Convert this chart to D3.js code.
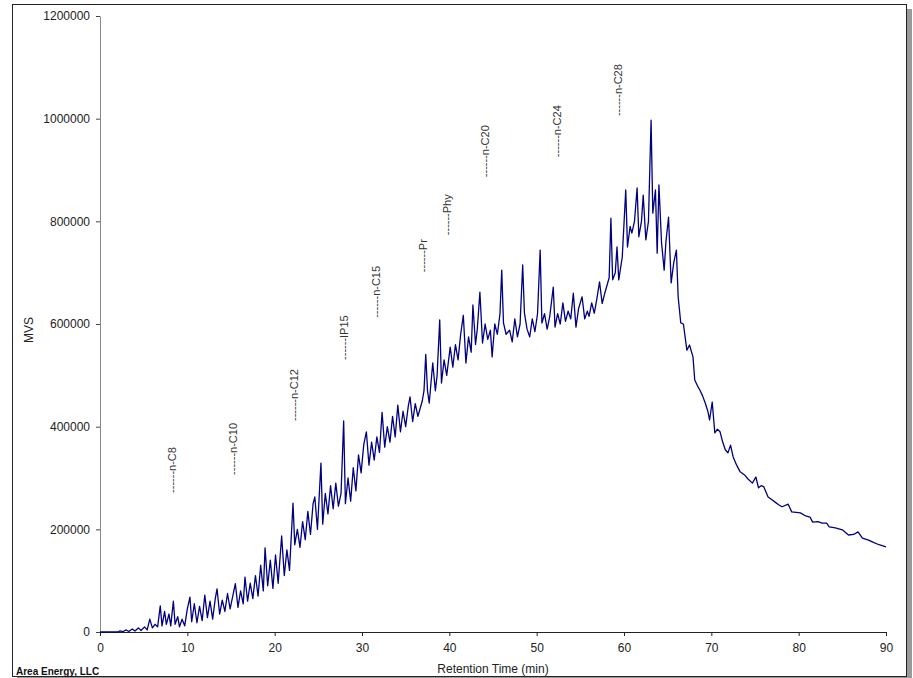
<!DOCTYPE html>
<html>
<head>
<meta charset="utf-8">
<script src="https://cdn.jsdelivr.net/npm/d3@7"></script>
<style>
  body { margin: 0; background: #fff; }
  svg { display: block; font-family: "Liberation Sans", Arial, sans-serif; }
  .axis text { fill: #222; font-size: 12px; }
  .peak { fill: #333; font-size: 11px; }
</style>
</head>
<body>
<svg id="chart"></svg>
<script>
'use strict';

var xTicks = [0, 10, 20, 30, 40, 50, 60, 70, 80, 90];
var yTicks = [0, 200000, 400000, 600000, 800000, 1000000, 1200000];

// peak markers: name, retention time (min), height of label foot (MVS)
var peakNames = ['n-C8', 'n-C10', 'n-C12', 'IP15', 'n-C15', 'Pr', 'Phy', 'n-C20', 'n-C24', 'n-C28'];
var peakTimes = [8.3, 15.3, 22.2, 27.9, 31.6, 37.0, 39.7, 44.1, 52.3, 59.3];
var peakHeights = [271000, 306000, 411000, 530000, 612000, 701000, 773000, 886000, 925000, 1005000];

// chromatogram trace, [retention time (min), MVS]
var trace = [
  [0,0],[2,0],[2.3,2000],[2.6,500],[3,4000],[3.3,1000],[3.7,6000],[4,2000],[4.4,8000],[4.7,3000],
  [5.1,10000],[5.4,4000],[5.7,25000],[6,8000],[6.3,15000],[6.6,10000],[6.9,51000],[7.1,12000],[7.4,40000],[7.6,15000],
  [7.9,35000],[8.1,12000],[8.4,60000],[8.6,15000],[8.9,30000],[9.1,10000],[9.4,25000],[9.7,12000],[10,45000],[10.3,68000],
  [10.5,20000],[10.8,55000],[11.1,18000],[11.4,50000],[11.7,22000],[12,72000],[12.3,28000],[12.6,60000],[12.9,25000],[13.2,65000],
  [13.4,84000],[13.7,35000],[14,62000],[14.3,40000],[14.6,75000],[14.9,45000],[15.2,70000],[15.5,94000],[15.8,48000],[16.1,80000],
  [16.4,55000],[16.6,107000],[16.9,60000],[17.2,95000],[17.5,65000],[17.8,110000],[18.1,70000],[18.4,130000],[18.7,80000],[18.9,164000],
  [19.2,90000],[19.5,140000],[19.8,85000],[20.1,150000],[20.4,95000],[20.8,187000],[21.1,110000],[21.4,160000],[21.7,120000],[22.1,251000],
  [22.3,170000],[22.6,200000],[22.9,165000],[23.2,215000],[23.5,180000],[23.8,235000],[24.1,190000],[24.4,250000],[24.6,263000],[24.9,200000],
  [25.3,329000],[25.5,210000],[25.8,270000],[26.1,230000],[26.4,285000],[26.7,240000],[27,290000],[27.3,245000],[27.6,270000],[27.9,411000],
  [28.1,250000],[28.4,300000],[28.7,255000],[29,320000],[29.3,275000],[29.6,345000],[29.9,310000],[30.2,365000],[30.5,390000],[30.8,325000],
  [31.1,370000],[31.4,335000],[31.7,380000],[32,350000],[32.3,428000],[32.6,360000],[32.9,400000],[33.2,370000],[33.5,420000],[33.8,380000],
  [34.1,442000],[34.4,390000],[34.7,430000],[35,400000],[35.3,440000],[35.5,458000],[35.8,410000],[36.1,445000],[36.4,420000],[36.6,432000],
  [36.9,450000],[37.1,470000],[37.3,541000],[37.5,470000],[37.7,446000],[38.1,524000],[38.4,470000],[38.6,500000],[38.9,608000],[39.1,485000],
  [39.4,530000],[39.7,500000],[40.1,555000],[40.4,516000],[40.7,560000],[41,530000],[41.3,580000],[41.6,617000],[41.9,524000],[42.2,575000],
  [42.5,545000],[42.7,637000],[43,560000],[43.2,590000],[43.5,662000],[43.8,563000],[44.1,600000],[44.4,570000],[44.7,588000],[44.9,536000],
  [45.2,600000],[45.5,580000],[45.8,620000],[46,705000],[46.2,602000],[46.5,580000],[46.9,588000],[47.2,565000],[47.5,610000],[47.8,575000],
  [48.1,600000],[48.4,715000],[48.6,621000],[48.9,590000],[49.2,575000],[49.5,610000],[49.8,585000],[50.1,620000],[50.4,744000],[50.6,602000],
  [50.9,620000],[51.2,590000],[51.5,615000],[51.9,672000],[52.1,594000],[52.4,620000],[52.7,600000],[53,641000],[53.3,605000],[53.6,625000],
  [53.9,610000],[54.2,660000],[54.5,594000],[54.8,630000],[55.2,653000],[55.5,610000],[55.8,625000],[56,615000],[56.3,641000],[56.6,621000],
  [56.9,650000],[57.2,682000],[57.5,640000],[57.8,660000],[58,672000],[58.3,690000],[58.5,806000],[58.7,686000],[59,700000],[59.2,750000],
  [59.4,686000],[59.8,730000],[60.2,861000],[60.4,750000],[60.7,790000],[60.9,777000],[61.2,800000],[61.5,865000],[61.7,770000],[62,800000],
  [62.2,851000],[62.5,764000],[62.8,800000],[63.1,997000],[63.3,816000],[63.6,861000],[63.8,738000],[64,871000],[64.3,758000],[64.6,705000],
  [64.8,760000],[65.1,808000],[65.4,680000],[65.7,720000],[66,744000],[66.2,653000],[66.5,602000],[66.8,600000],[67.2,549000],[67.5,559000],
  [67.9,536000],[68.1,491000],[68.4,480000],[68.7,471000],[69,460000],[69.3,446000],[69.6,430000],[69.8,413000],[70.1,448000],[70.4,388000],
  [70.7,395000],[71,390000],[71.3,370000],[71.6,355000],[71.9,349000],[72.2,364000],[72.5,341000],[72.9,325000],[73.3,312000],[73.8,306000],
  [74.2,298000],[74.7,290000],[75.1,302000],[75.4,281000],[75.7,285000],[76,283000],[76.5,263000],[76.9,258000],[77.3,253000],[77.7,248000],
  [78.1,244000],[78.8,249000],[79.2,234000],[79.7,233000],[80.2,232000],[80.8,226000],[81.3,224000],[81.6,214000],[82.2,215000],[82.7,212000],
  [83.2,212000],[83.5,205000],[84.2,203000],[85,199000],[85.7,189000],[86.3,190000],[86.8,195000],[87.3,183000],[88,179000],[88.5,175000],
  [89.2,170000],[90,166000]
];

var width = 913,
    height = 678,
    margin = {top: 16, right: 27, bottom: 46, left: 100};

var svg = d3.select('#chart')
    .attr('width', width)
    .attr('height', height);

// frame with drop shadow
svg.append('rect')
    .attr('x', 17).attr('y', 9)
    .attr('width', 895).attr('height', 672)
    .attr('fill', '#9a9a9a');
svg.append('rect')
    .attr('x', 12.5).attr('y', 4.5)
    .attr('width', 894).attr('height', 672)
    .attr('fill', '#fff')
    .attr('stroke', '#222');

var x = d3.scaleLinear()
    .domain([0, 90])
    .range([margin.left, width - margin.right]);

var y = d3.scaleLinear()
    .domain([0, 1200000])
    .range([height - margin.bottom, margin.top]);

var yAxis = d3.axisLeft(y)
    .tickValues(yTicks)
    .tickFormat(d3.format('d'))
    .tickSize(4)
    .tickSizeOuter(0)
    .tickPadding(6);

var xAxis = d3.axisBottom(x)
    .tickValues(xTicks)
    .tickSize(4)
    .tickSizeOuter(0)
    .tickPadding(7);

var gy = svg.append('g')
    .attr('class', 'axis')
    .attr('transform', 'translate(' + margin.left + ',0)')
    .call(yAxis);
gy.select('.domain').attr('stroke', '#888');
gy.selectAll('.tick line').attr('stroke', '#444');

var gx = svg.append('g')
    .attr('class', 'axis')
    .attr('transform', 'translate(0,' + (height - margin.bottom) + ')')
    .call(xAxis);
gx.select('.domain').attr('stroke', '#222');
gx.selectAll('.tick line').attr('stroke', '#222');

var line = d3.line()
    .x(function(d) { return x(d[0]); })
    .y(function(d) { return y(d[1]); });

svg.append('path')
    .datum(trace)
    .attr('d', line)
    .attr('fill', 'none')
    .attr('stroke', '#000080')
    .attr('stroke-width', 1.3)
    .attr('stroke-linejoin', 'round');

// peak labels (dashes are part of the label text, as in the original)
svg.selectAll('text.peak')
    .data(peakNames)
    .enter().append('text')
    .attr('class', 'peak')
    .attr('transform', function(d, i) {
        return 'translate(' + x(peakTimes[i]) + ',' + y(peakHeights[i]) + ') rotate(-90)';
    })
    .attr('dy', '0.35em')
    .text(function(d) { return '------' + d; });

// titles
svg.append('text')
    .attr('x', 493).attr('y', 673)
    .attr('text-anchor', 'middle')
    .attr('font-size', 12)
    .attr('fill', '#222')
    .text('Retention Time (min)');

svg.append('text')
    .attr('transform', 'translate(33,330) rotate(-90)')
    .attr('text-anchor', 'middle')
    .attr('font-size', 12)
    .attr('fill', '#222')
    .text('MVS');

svg.append('text')
    .attr('x', 16).attr('y', 675)
    .attr('font-size', 10)
    .attr('font-weight', 'bold')
    .attr('fill', '#111')
    .text('Area Energy, LLC');
</script>
</body>
</html>
